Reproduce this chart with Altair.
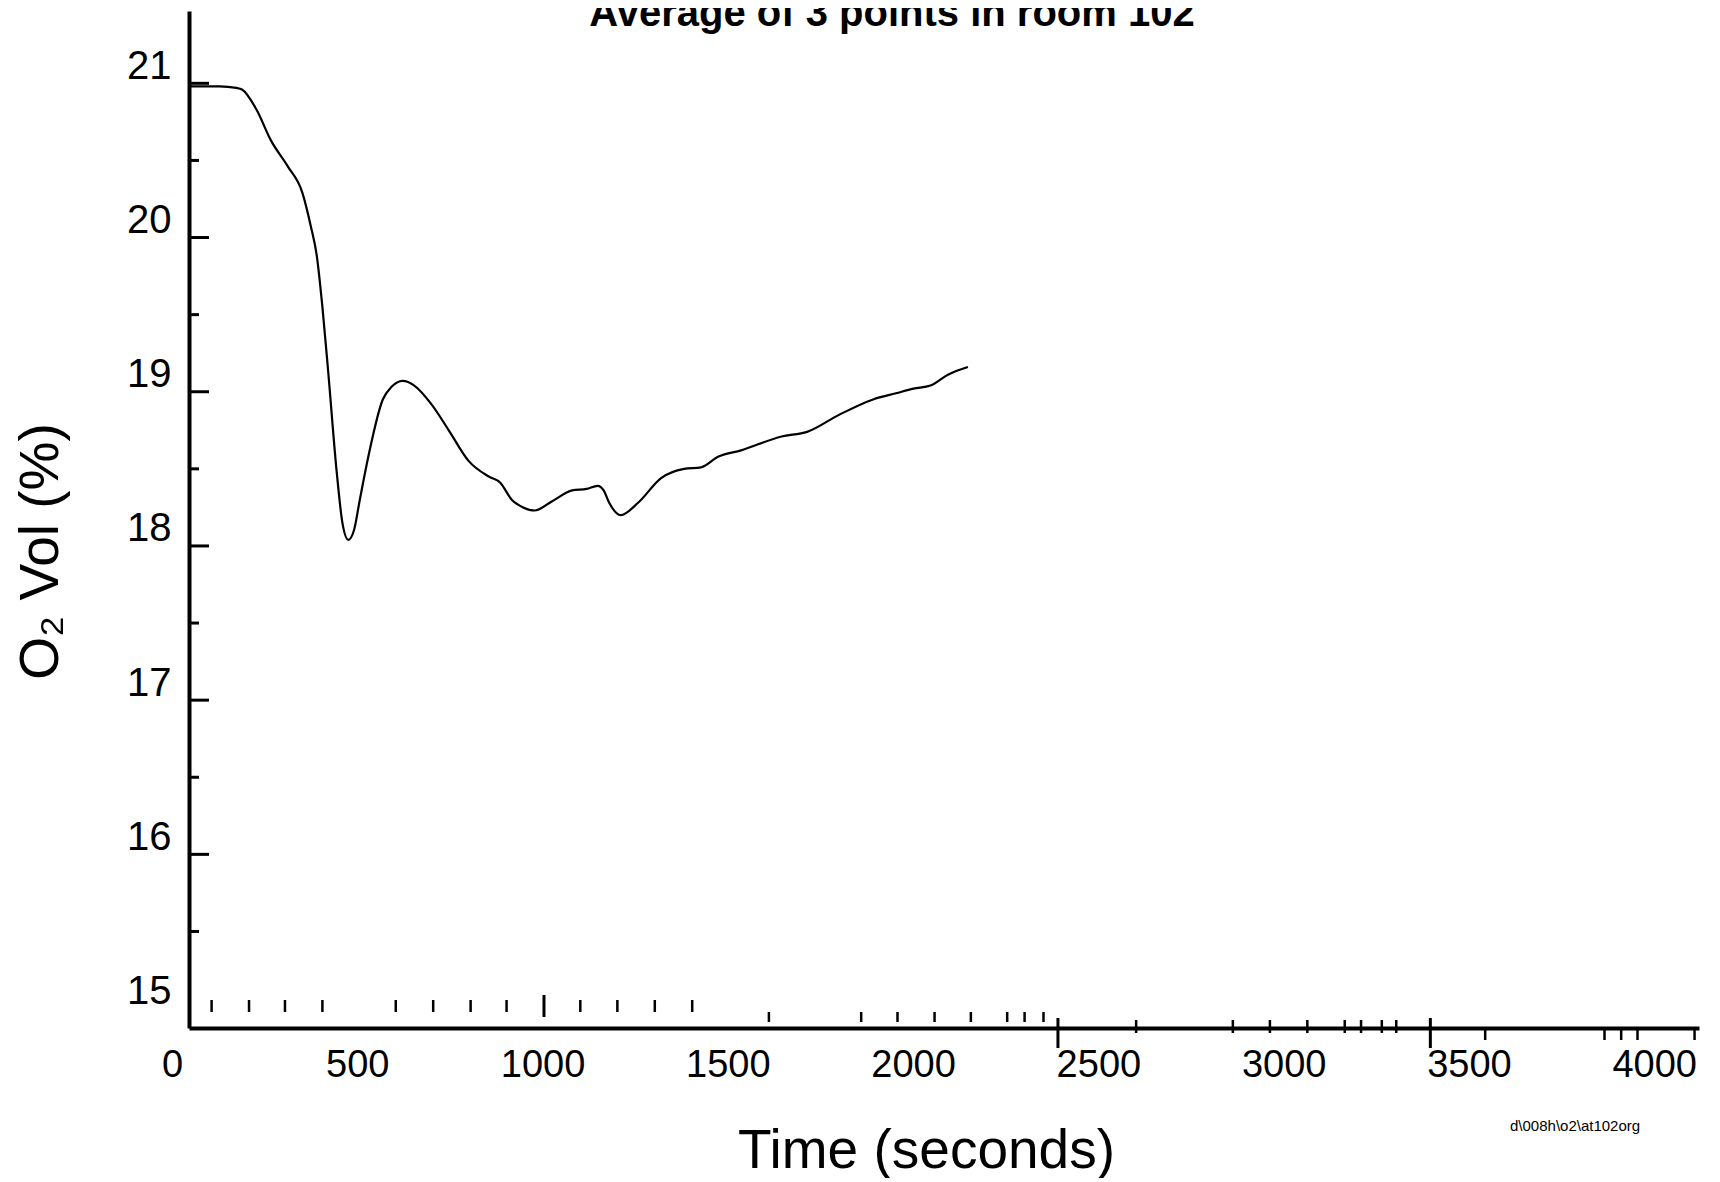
import altair as alt
import pandas as pd

# ---- data ----
time_s = [0, 35, 82, 128, 143, 182, 221, 267, 306, 329, 345, 360, 376, 399, 414,
          430, 445, 461, 484, 523, 546, 577, 608, 654, 701, 755, 809, 840, 871,
          902, 933, 980, 1034, 1073, 1103, 1119, 1134, 1165, 1212, 1274, 1336,
          1382, 1429, 1490, 1599, 1668, 1754, 1846, 1908, 1955, 2001, 2048, 2102]
o2_pct = [20.98, 20.98, 20.98, 20.97, 20.96, 20.83, 20.63, 20.46, 20.29, 20.07,
          19.88, 19.55, 19.12, 18.47, 18.15, 18.04, 18.10, 18.30, 18.58, 18.95,
          19.03, 19.07, 19.04, 18.92, 18.75, 18.55, 18.45, 18.41, 18.30, 18.25,
          18.23, 18.29, 18.36, 18.37, 18.39, 18.36, 18.28, 18.20, 18.28, 18.44,
          18.50, 18.51, 18.58, 18.62, 18.71, 18.74, 18.85, 18.95, 18.99, 19.02,
          19.04, 19.11, 19.16]

x_labels = [0, 500, 1000, 1500, 2000, 2500, 3000, 3500, 4000]
y_labels = [15, 16, 17, 18, 19, 20, 21]
y_major_ticks = [16, 17, 18, 19, 20, 21]
y_minor_ticks = [15.5, 16.5, 17.5, 18.5, 19.5, 20.5]

# scanned minor tick marks along the time axis (seconds)
ticks_a = [61, 162, 259, 360, 558, 659, 760, 857, 1056, 1156, 1257, 1358]
ticks_tall = [958]
ticks_b = [1565, 1814, 1912, 2012, 2110, 2208, 2255, 2306]
ticks_major = [2345, 3350]
ticks_c = [2556, 2817, 2917, 3018, 3119, 3163, 3219, 3258]
ticks_d = [3498, 3820, 3865, 3909, 4063]

title_text = "Average of 3 points in room 102"
file_tag = "d\\008h\\o2\\at102org"

# ---- layout ----
W, H = 1510, 1017
FONT = "Liberation Sans"

xscale = alt.Scale(domain=[0, 4075], nice=False, zero=False)
yscale = alt.Scale(domain=[14.874, 21.469], nice=False, zero=False)

x_axis = alt.Axis(
    values=x_labels, format="d", ticks=False, grid=False,
    domainColor="black", domainWidth=4,
    labelFont=FONT, labelFontSize=38, labelColor="black",
    labelPadding=18, labelOffset=-17, labelFlush=False, labelOverlap=False,
    title="Time (seconds)", titleFont=FONT, titleFontSize=55,
    titleFontWeight="normal", titleColor="black",
    titleX=737, titleY=139, titleBaseline="alphabetic", titleAlign="center")
y_axis = alt.Axis(
    values=y_labels, format="d", ticks=False, grid=False,
    domainColor="black", domainWidth=4,
    labelFont=FONT, labelFontSize=40, labelColor="black",
    labelPadding=18, labelOffset=-17, labelFlush=False, labelOverlap=False,
    title="O₂ Vol (%)", titleFont=FONT, titleFontSize=55,
    titleFontWeight="normal", titleColor="black", titleAngle=270,
    titleX=-132, titleY=540, titleBaseline="alphabetic", titleAlign="center")

curve = pd.DataFrame({"t": time_s, "o2": o2_pct})

line = alt.Chart(curve).mark_line(
    color="black", strokeWidth=2.2, interpolate="monotone"
).encode(
    x=alt.X("t:Q", scale=xscale, axis=x_axis),
    y=alt.Y("o2:Q", scale=yscale, axis=y_axis),
)


def ytick_layer(vals, length):
    return alt.Chart(pd.DataFrame({"o2": vals})).mark_rule(
        color="black", strokeWidth=3
    ).encode(
        y=alt.Y("o2:Q", scale=yscale, axis=y_axis),
        x=alt.value(0), x2=alt.value(length),
    )


def xtick_layer(vals, y0, y1, sw=2.5):
    return alt.Chart(pd.DataFrame({"t": vals})).mark_rule(
        color="black", strokeWidth=sw
    ).encode(
        x=alt.X("t:Q", scale=xscale, axis=x_axis),
        y=alt.value(y0), y2=alt.value(y1),
    )


title_layer = alt.Chart(pd.DataFrame({"s": [title_text]})).mark_text(
    font=FONT, fontSize=40, fontWeight="bold", color="black",
    align="center", baseline="alphabetic"
).encode(text="s:N", x=alt.value(703), y=alt.value(15))

tag_layer = alt.Chart(pd.DataFrame({"s": [file_tag]})).mark_text(
    font=FONT, fontSize=15, color="black", align="left", baseline="alphabetic"
).encode(text="s:N", x=alt.value(1321), y=alt.value(1120))

chart = alt.layer(
    line,
    ytick_layer(y_major_ticks, 20),
    ytick_layer(y_minor_ticks, 10),
    xtick_layer(ticks_a, 989, 1001),
    xtick_layer(ticks_tall, 984, 1006, 3),
    xtick_layer(ticks_b, 1001, 1011),
    xtick_layer(ticks_major, 1007, 1037, 3),
    xtick_layer(ticks_c, 1009, 1022),
    xtick_layer(ticks_d, 1019, 1029),
    title_layer,
    tag_layer,
).properties(
    width=W, height=H,
    autosize=alt.AutoSizeParams(type="none"),
    padding={"left": 181, "top": 3, "right": 10, "bottom": 150},
    background="white",
).configure_view(stroke=None)

chart.save("out.html", embed_options={"renderer": "svg", "actions": False})
